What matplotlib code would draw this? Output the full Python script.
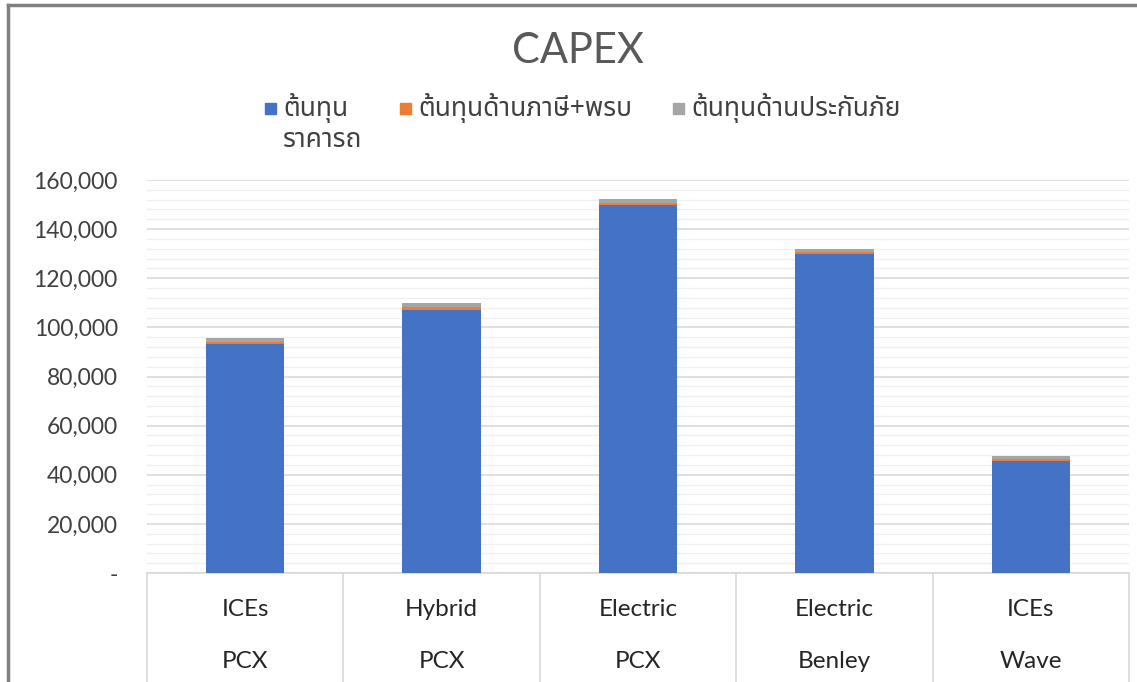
import matplotlib
matplotlib.use("Agg")
import matplotlib.pyplot as plt
from matplotlib import font_manager, ft2font
from matplotlib.patches import Rectangle
from matplotlib.lines import Line2D
from matplotlib.ticker import FuncFormatter, MultipleLocator
import numpy as np

# top and bottom rows of the category axis
tech = ["ICEs", "Hybrid", "Electric", "Electric", "ICEs"]
model = ["PCX", "PCX", "PCX", "Benley", "Wave"]

series_names = ["ต้นทุน\nราคารถ", "ต้นทุนด้านภาษี+พรบ", "ต้นทุนด้านประกันภัย"]
car_price = [93200, 107200, 149700, 130000, 45600]
tax_cost = [1000, 1000, 1000, 800, 800]
insurance_cost = [1600, 1600, 1500, 1100, 1400]

colors = ["#4472C4", "#ED7D31", "#A5A5A5"]


def find_thai_family():
    preferred = ["Noto Sans Thai", "Noto Sans Thai UI", "Noto Serif Thai", "Loma",
                 "Garuda", "Tlwg Typo", "Waree", "Sarabun", "Noto Sans"]
    fonts = font_manager.fontManager.ttflist
    ordered = sorted(fonts, key=lambda f: preferred.index(f.name) if f.name in preferred else 99)
    for f in ordered:
        try:
            if ft2font.FT2Font(f.fname).get_char_index(ord("ก")):
                return f.name
        except Exception:
            continue
    return "DejaVu Sans"


thai_font = find_thai_family()
base_font = "Lato"
plt.rcParams["font.family"] = [base_font, thai_font, "DejaVu Sans"]

fig = plt.figure(figsize=(11.37, 6.82), dpi=100)
W, H = 1137, 682
ax = fig.add_axes([147 / W, 1 - 573 / H, (1129 - 147) / W, (573 - 180) / H])

x = np.arange(len(tech))
width = 0.40
bottom = np.zeros(len(tech))
for vals, c in zip([car_price, tax_cost, insurance_cost], colors):
    ax.bar(x, vals, width, bottom=bottom, color=c, zorder=3)
    bottom += np.array(vals)

ax.set_xlim(-0.5, len(tech) - 0.5)
ax.set_ylim(0, 160000)
ax.yaxis.set_major_locator(MultipleLocator(20000))
ax.yaxis.set_minor_locator(MultipleLocator(4000))
ax.yaxis.set_major_formatter(FuncFormatter(lambda v, p: "-" if v == 0 else f"{int(v):,}"))
ax.grid(axis="y", which="major", color="#d9d9d9", linewidth=1.2, zorder=0)
ax.grid(axis="y", which="minor", color="#f0f0f0", linewidth=1.0, zorder=0)
ax.tick_params(axis="y", which="both", length=0, labelsize=16.5, labelcolor="#404040", pad=21)
ax.tick_params(axis="x", which="both", length=0, labelbottom=False)
for s in ["top", "right", "left"]:
    ax.spines[s].set_visible(False)
ax.spines["bottom"].set_color("#d9d9d9")
ax.spines["bottom"].set_linewidth(1.2)

# two-level category axis drawn as a table below the plot
depth = (682 - 573) / (573 - 180)
trans = ax.get_xaxis_transform()
for b in np.arange(-0.5, len(tech), 1.0):
    ax.plot([b, b], [0, -depth], color="#d9d9d9", lw=1.2, transform=trans, clip_on=False)
for i in range(len(tech)):
    ax.text(i, -(609 - 573) / 393, tech[i], transform=trans, ha="center", va="center",
            fontsize=17.5, color="#262626")
    ax.text(i, -(662 - 573) / 393, model[i], transform=trans, ha="center", va="center",
            fontsize=17.5, color="#262626")

fig.text(578 / W, 1 - 51 / H, "CAPEX", ha="center", va="center", fontsize=30, color="#595959")

# legend
leg_items = [(265, series_names[0]), (400, series_names[1]), (673, series_names[2])]
for (lx, name), c in zip(leg_items, colors):
    fig.add_artist(Rectangle((lx / W, 1 - 114 / H), 11 / W, 11 / H, color=c,
                             transform=fig.transFigure))
    fig.text((lx + 18) / W, 1 - 93 / H, name, ha="left", va="top", fontsize=19,
             color="#404040", family=[thai_font, "DejaVu Sans"], linespacing=1.15)

# chart border
fig.add_artist(Line2D([8 / W, 1], [1 - 5 / H, 1 - 5 / H], color="#808080", lw=2.5,
                      transform=fig.transFigure))
fig.add_artist(Line2D([8 / W, 8 / W], [0, 1 - 5 / H], color="#808080", lw=2.5,
                      transform=fig.transFigure))

fig.savefig("out.png", dpi=100)
